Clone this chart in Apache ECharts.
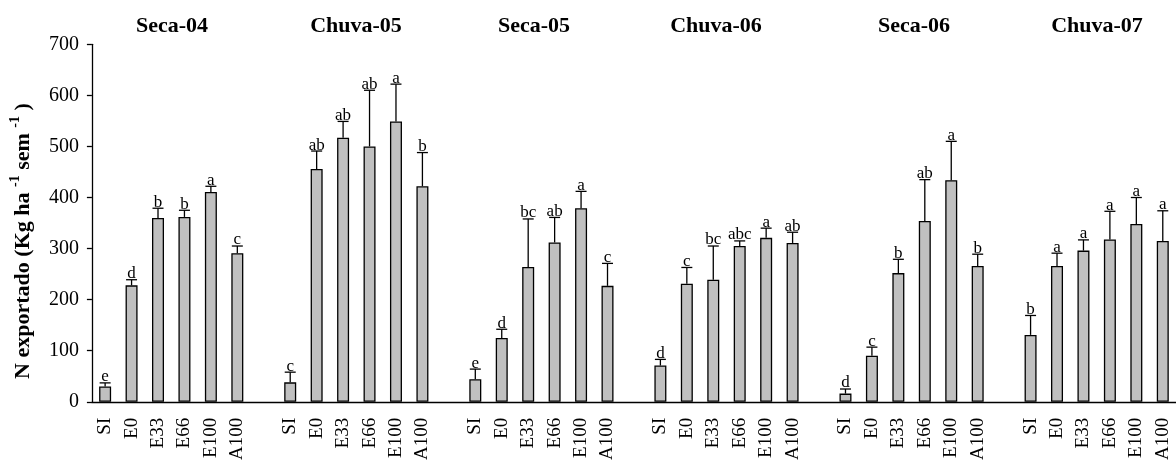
<!DOCTYPE html>
<html>
<head>
<meta charset="utf-8">
<script src="https://cdn.jsdelivr.net/npm/echarts@6/dist/echarts.min.js"></script>
<style>
  html, body { margin: 0; padding: 0; background: #fff; }
  #chart { width: 1176px; height: 463px; }
</style>
</head>
<body>
<div id="chart"></div>
<script>
// Seasons (group titles) and treatments within each season
const seasons = ['Seca-04', 'Chuva-05', 'Seca-05', 'Chuva-06', 'Seca-06', 'Chuva-07'];
const treatments = ['SI', 'E0', 'E33', 'E66', 'E100', 'A100'];

// Mean N exported per treatment, one list per season
const seca04 = [30, 228, 360, 362, 411, 291];
const chuva05 = [38, 456, 517, 500, 549, 422];
const seca05 = [44, 125, 264, 312, 379, 227];
const chuva06 = [71, 231, 239, 305, 321, 311];
const seca06 = [16, 90, 252, 354, 434, 266];
const chuva07 = [131, 266, 296, 318, 348, 315];

// Upper error (standard error) per treatment
const seca04Err = [7, 11, 19, 13, 11, 14];
const chuva05Err = [20, 35, 32, 110, 73, 66];
const seca05Err = [20, 17, 94, 49, 33, 44];
const chuva06Err = [12, 32, 66, 10, 19, 21];
const seca06Err = [9, 17, 27, 81, 76, 23];
const chuva07Err = [38, 25, 21, 55, 52, 59];

// Significance letters (Tukey) per treatment
const seca04Sig = ['e', 'd', 'b', 'b', 'a', 'c'];
const chuva05Sig = ['c', 'ab', 'ab', 'ab', 'a', 'b'];
const seca05Sig = ['e', 'd', 'bc', 'ab', 'a', 'c'];
const chuva06Sig = ['d', 'c', 'bc', 'abc', 'a', 'ab'];
const seca06Sig = ['d', 'c', 'b', 'ab', 'a', 'b'];
const chuva07Sig = ['b', 'a', 'a', 'a', 'a', 'a'];

// Y axis tick values
const yTicks = [0, 100, 200, 300, 400, 500, 600, 700];

const means = [seca04, chuva05, seca05, chuva06, seca06, chuva07];
const errs = [seca04Err, chuva05Err, seca05Err, chuva06Err, seca06Err, chuva07Err];
const sigs = [seca04Sig, chuva05Sig, seca05Sig, chuva06Sig, seca06Sig, chuva07Sig];

// Build one category slot per bar, with an empty slot between seasons
const slots = [];
const barData = [];
const errData = [];
seasons.forEach((s, g) => {
  if (g > 0) { slots.push(' '); barData.push('-'); }
  treatments.forEach((t, j) => {
    const idx = slots.length;
    slots.push(t);
    barData.push(means[g][j]);
    errData.push([idx, means[g][j], errs[g][j], sigs[g][j]]);
  });
});

const SERIF = '"Liberation Serif", "Times New Roman", serif';
const chart = echarts.init(document.getElementById('chart'), null, { renderer: 'canvas' });

// Season title x-centres
const titleX = [167, 351, 529, 711, 909, 1092];

chart.setOption({
  animation: false,
  backgroundColor: '#ffffff',
  title: seasons.map((s, i) => ({
    text: s,
    left: titleX[i],
    top: 10,
    textAlign: 'center',
    textStyle: { fontFamily: SERIF, fontWeight: 'bold', fontSize: 22, color: '#000' }
  })),
  grid: { left: 91.5, right: -9, top: 44.3, bottom: 59.7, containLabel: false },
  xAxis: {
    type: 'category',
    data: slots,
    boundaryGap: true,
    axisLine: { show: true, lineStyle: { color: '#000', width: 1.3 } },
    axisTick: { show: false },
    axisLabel: {
      interval: 0,
      rotate: 90,
      margin: 16,
      fontFamily: SERIF,
      fontSize: 19,
      color: '#000'
    },
    splitLine: { show: false }
  },
  yAxis: {
    type: 'value',
    min: yTicks[0],
    max: yTicks[yTicks.length - 1],
    interval: yTicks[1] - yTicks[0],
    axisLine: { show: true, lineStyle: { color: '#000', width: 1.3 } },
    axisTick: { show: true, inside: false, length: 5, lineStyle: { color: '#000', width: 1.3 } },
    axisLabel: { margin: 13, fontFamily: SERIF, fontSize: 20, color: '#000' },
    splitLine: { show: false },
    name: 'N exportado (Kg ha {s|-1} sem {s|-1} )',
    nameLocation: 'middle',
    nameGap: 49,
    nameRotate: 90,
    nameTextStyle: {
      fontFamily: SERIF,
      fontWeight: 'bold',
      fontSize: 22,
      color: '#000',
      lineHeight: 30,
      padding: [0, 36, 0, 0],
      rich: {
        s: { fontFamily: SERIF, fontWeight: 'bold', fontSize: 14, lineHeight: 30, verticalAlign: 'top', color: '#000' }
      }
    }
  },
  series: [
    {
      type: 'bar',
      data: barData,
      barWidth: 12,
      itemStyle: { color: '#c0c0c0', borderColor: '#000', borderWidth: 1.3 },
      silent: true
    },
    {
      type: 'custom',
      data: errData,
      silent: true,
      z: 5,
      renderItem: function (params, api) {
        const x = api.value(0);
        const m = api.value(1);
        const e = api.value(2);
        const letter = errData[params.dataIndex][3];
        const base = api.coord([x, m]);
        const top = api.coord([x, m + e]);
        const half = 5.5;
        const ls = { stroke: '#000', lineWidth: 1.3 };
        return {
          type: 'group',
          children: [
            { type: 'line', shape: { x1: base[0], y1: base[1], x2: top[0], y2: top[1] }, style: ls },
            { type: 'line', shape: { x1: top[0] - half, y1: top[1], x2: top[0] + half, y2: top[1] }, style: ls },
            {
              type: 'text',
              x: top[0],
              y: top[1] + 2.5,
              style: {
                text: letter,
                align: 'center',
                verticalAlign: 'bottom',
                fontFamily: SERIF,
                fontSize: 17,
                fill: '#000'
              }
            }
          ]
        };
      }
    }
  ]
});
</script>
</body>
</html>
